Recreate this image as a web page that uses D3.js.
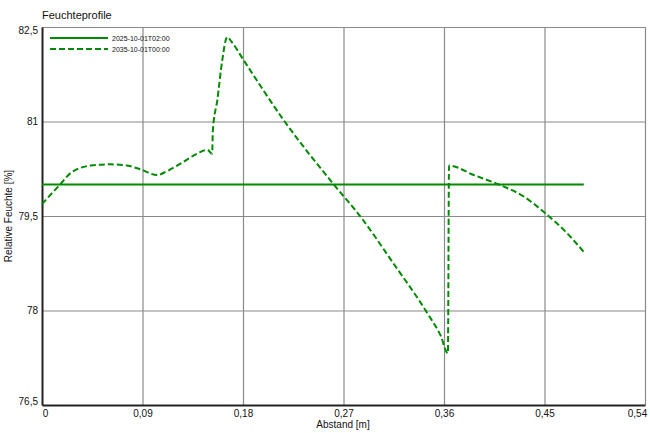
<!DOCTYPE html>
<html>
<head>
<meta charset="utf-8">
<script src="https://cdn.jsdelivr.net/npm/d3@7"></script>
<style>
	body { margin: 0; background: #fff; }
	text { font-family: "Liberation Sans", Arial, sans-serif; fill: #111; }
</style>
</head>
<body>
<div id="chart"></div>
<script>
const title = "Feuchteprofile";
const xLabel = "Abstand [m]";
const yLabel = "Relative Feuchte [%]";
const xTicks = [0, 0.09, 0.18, 0.27, 0.36, 0.45, 0.54];
const yTicks = [76.5, 78, 79.5, 81, 82.5];

const series2025Name = "2025-10-01T02:00";
const series2025X = [0, 0.4852];
const series2025Y = [80.0, 80.0];

const series2035Name = "2035-10-01T00:00";
const series2035X = [0, 0.0172, 0.0255, 0.0434, 0.0613, 0.0763, 0.0882, 0.1032, 0.1106, 0.124, 0.139, 0.148, 0.1524,
	0.1530, 0.157, 0.1614, 0.1658, 0.170, 0.1807, 0.2165, 0.2613, 0.2852, 0.315, 0.345, 0.357, 0.3635,
	0.3645, 0.3867, 0.409, 0.4314, 0.4509, 0.4673, 0.4852];
const series2035Y = [79.69, 80.02, 80.18, 80.30, 80.32, 80.30, 80.24, 80.15, 80.20, 80.33, 80.49, 80.55, 80.49,
	80.86, 81.34, 81.97, 82.34, 82.26, 81.97, 81.02, 80.0, 79.49, 78.74, 77.96, 77.60, 77.32,
	80.30, 80.15, 80.0, 79.81, 79.54, 79.28, 78.93];

const fmt = v => String(+v.toFixed(2)).replace(".", ",");

function createChart() {
	const margin = { top: 27, right: 5, bottom: 28, left: 42 },
		width = 650 - margin.left - margin.right,
		height = 433 - margin.top - margin.bottom;

	const x = d3.scaleLinear().domain([0, 0.54]).range([0, 603]);
	const y = d3.scaleLinear().domain([76.5, 82.5]).range([378, 0]);

	const root = d3.select("#chart").append("svg")
		.attr("width", 650)
		.attr("height", 433);

	root.append("text")
		.attr("x", 42)
		.attr("y", 19)
		.style("font-size", "11px")
		.text(title);

	const svg = root.append("g")
		.attr("transform", "translate(" + margin.left + "," + margin.top + ")");

	// grid
	svg.append("g")
		.selectAll("line")
		.data(xTicks.slice(1))
		.enter().append("line")
		.attr("x1", d => x(d) + 0.5).attr("x2", d => x(d) + 0.5)
		.attr("y1", 0).attr("y2", 378)
		.attr("stroke", "#8a8a8a").attr("stroke-width", 1.2);

	svg.append("g")
		.selectAll("line")
		.data(yTicks.slice(1))
		.enter().append("line")
		.attr("x1", 0).attr("x2", 603)
		.attr("y1", d => y(d) + 0.5).attr("y2", d => y(d) + 0.5)
		.attr("stroke", "#8a8a8a").attr("stroke-width", 1.2);

	// axes
	const xAxis = svg.append("g")
		.attr("transform", "translate(0,378)")
		.call(d3.axisBottom(x).tickValues(xTicks).tickFormat(fmt).tickSize(0).tickPadding(5));
	xAxis.select(".domain").attr("stroke", "#222").attr("stroke-width", 2);
	xAxis.selectAll("text").style("font-size", "10px").attr("fill", "#111");
	xAxis.selectAll(".tick text").filter(d => d === 0).attr("dx", "3px");
	xAxis.selectAll(".tick text").filter(d => d === 0.54).attr("dx", "-8px");

	const yAxis = svg.append("g")
		.call(d3.axisLeft(y).tickValues(yTicks).tickFormat(fmt).tickSize(0).tickPadding(4));
	yAxis.select(".domain").attr("stroke", "#222").attr("stroke-width", 2);
	yAxis.selectAll("text").style("font-size", "10px").attr("fill", "#111");
	yAxis.selectAll(".tick text").filter(d => d === 76.5).attr("dy", "-0.1em");
	yAxis.selectAll(".tick text").filter(d => d === 82.5).attr("dy", "0.6em");

	svg.append("text")
		.attr("x", 301)
		.attr("y", 401)
		.attr("text-anchor", "middle")
		.style("font-size", "10px")
		.text(xLabel);

	svg.append("text")
		.attr("transform", "translate(-30," + 189 + ") rotate(-90)")
		.attr("text-anchor", "middle")
		.style("font-size", "10px")
		.text(yLabel);

	const line = d3.line()
		.x(d => x(d[0]))
		.y(d => y(d[1]))
		.curve(d3.curveMonotoneX);

	const d2025 = series2025X.map((v, i) => [v, series2025Y[i]]);
	const d2035 = series2035X.map((v, i) => [v, series2035Y[i]]);

	svg.append("path")
		.datum(d2025)
		.attr("d", line)
		.style("fill", "none")
		.style("stroke", "#008a00")
		.style("stroke-width", "2px");

	svg.append("path")
		.datum(d2035)
		.attr("d", line)
		.style("fill", "none")
		.style("stroke", "#008a00")
		.style("stroke-dasharray", "6,3")
		.style("stroke-width", "2px");

	// legend
	const legend = svg.append("g").attr("transform", "translate(8,11)");
	[[series2025Name, null], [series2035Name, "6,3"]].forEach((s, i) => {
		legend.append("line")
			.attr("x1", 0).attr("x2", 58)
			.attr("y1", i * 11).attr("y2", i * 11)
			.attr("stroke", "#008a00")
			.attr("stroke-width", 2)
			.attr("stroke-dasharray", s[1]);
		legend.append("text")
			.attr("x", 62)
			.attr("y", i * 11 + 2.5)
			.style("font-size", "7px")
			.text(s[0]);
	});
}

createChart();
</script>
</body>
</html>
